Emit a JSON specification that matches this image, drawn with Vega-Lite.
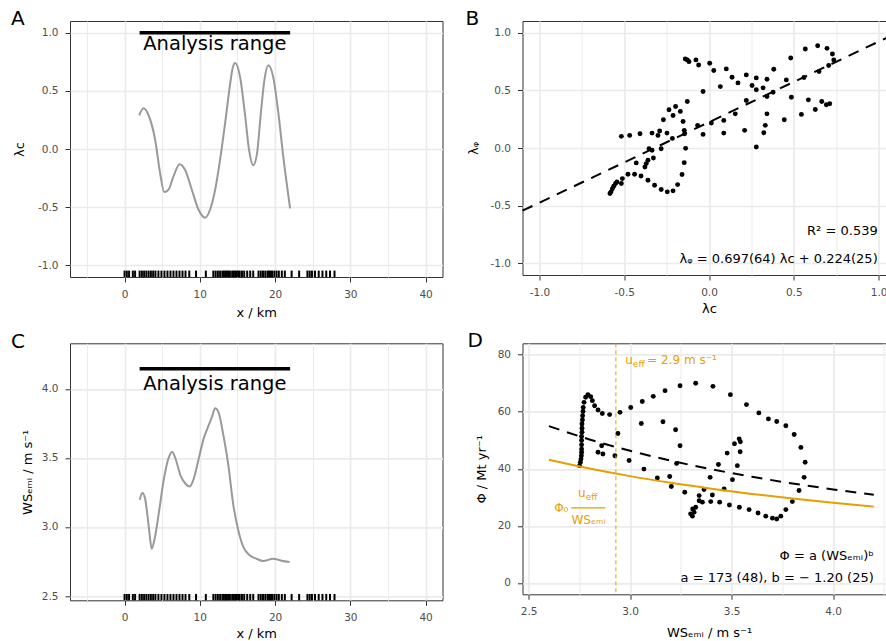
{
 "$schema": "https://vega.github.io/schema/vega-lite/v6.json",
 "padding": {"left": 10, "top": 8, "right": 0, "bottom": 0},
 "columns": 2,
 "bounds": "flush",
 "spacing": {"row": 66.3, "column": 79.5},
 "config": {
  "font": "DejaVu Sans",
  "view": {"stroke": "#333333", "strokeWidth": 1},
  "axis": {"domain": false, "grid": true, "gridColor": "#EBEBEB", "tickColor": "#333333", "tickSize": 5, "labelColor": "#4D4D4D", "labelFontSize": 10.5, "labelPadding": 7, "labelOverlap": false, "labelFlush": false, "titleFontSize": 13, "titleFontWeight": "normal", "titleColor": "#000000", "labelFont": "DejaVu Sans", "titleFont": "DejaVu Sans"},
  "title": {"fontSize": 20, "fontWeight": "normal", "anchor": "start", "frame": "group", "offset": 0, "baseline": "alphabetic", "color": "#000000", "font": "DejaVu Sans"},
  "text": {"font": "DejaVu Sans"}
 },
 "datasets": {
  "range": [{"x1": 2, "x2": 22, "xmid": 12, "label": "Analysis range"}],
  "rug": [{"x":0},{"x":0.3},{"x":0.6},{"x":1.1},{"x":1.4},{"x":2.0},{"x":2.3},{"x":2.6},{"x":2.9},{"x":3.2},{"x":3.5},{"x":3.8},{"x":4.1},{"x":4.5},{"x":4.9},{"x":5.3},{"x":5.7},{"x":6.1},{"x":6.5},{"x":6.9},{"x":7.3},{"x":7.7},{"x":8.1},{"x":8.6},{"x":9.5},{"x":10.8},{"x":11.8},{"x":12.1},{"x":12.4},{"x":12.7},{"x":13.0},{"x":13.2},{"x":13.4},{"x":13.6},{"x":13.8},{"x":14.0},{"x":14.3},{"x":14.5},{"x":14.7},{"x":14.9},{"x":15.1},{"x":15.3},{"x":15.6},{"x":15.9},{"x":16.3},{"x":16.7},{"x":17.1},{"x":17.8},{"x":18.1},{"x":18.4},{"x":18.7},{"x":19.0},{"x":19.2},{"x":19.4},{"x":19.6},{"x":19.9},{"x":20.2},{"x":20.5},{"x":20.9},{"x":21.3},{"x":22.2},{"x":23.2},{"x":24.3},{"x":24.6},{"x":24.9},{"x":25.3},{"x":25.8},{"x":26.3},{"x":26.8},{"x":27.3},{"x":27.9}],
  "curveA": [{"x":1.95,"lam":0.29},{"x":2.52,"lam":0.35},{"x":3.19,"lam":0.29},{"x":4.07,"lam":0.077},{"x":4.73,"lam":-0.21},{"x":5.27,"lam":-0.37},{"x":5.84,"lam":-0.35},{"x":6.5,"lam":-0.236},{"x":7.3,"lam":-0.13},{"x":8.05,"lam":-0.18},{"x":8.94,"lam":-0.35},{"x":9.82,"lam":-0.52},{"x":10.7,"lam":-0.59},{"x":11.37,"lam":-0.52},{"x":12.04,"lam":-0.35},{"x":12.7,"lam":-0.09},{"x":13.36,"lam":0.22},{"x":14.03,"lam":0.56},{"x":14.38,"lam":0.7},{"x":14.7,"lam":0.74},{"x":15.35,"lam":0.62},{"x":16.0,"lam":0.3},{"x":16.55,"lam":-0.01},{"x":17.1,"lam":-0.14},{"x":17.6,"lam":-0.04},{"x":18.1,"lam":0.3},{"x":18.6,"lam":0.6},{"x":19.1,"lam":0.72},{"x":19.75,"lam":0.62},{"x":20.4,"lam":0.33},{"x":21.1,"lam":-0.07},{"x":22.0,"lam":-0.51}],
  "curveC": [{"x":2.02,"ws":3.197},{"x":2.37,"ws":3.248},{"x":2.73,"ws":3.204},{"x":3.25,"ws":2.987},{"x":3.6,"ws":2.842},{"x":4.0,"ws":2.915},{"x":4.57,"ws":3.108},{"x":5.23,"ws":3.349},{"x":5.89,"ws":3.506},{"x":6.33,"ws":3.542},{"x":6.77,"ws":3.494},{"x":7.43,"ws":3.373},{"x":8.09,"ws":3.313},{"x":8.66,"ws":3.293},{"x":9.19,"ws":3.349},{"x":9.85,"ws":3.494},{"x":10.5,"ws":3.638},{"x":11.16,"ws":3.735},{"x":11.6,"ws":3.795},{"x":12.04,"ws":3.86},{"x":12.48,"ws":3.831},{"x":13.14,"ws":3.662},{"x":13.8,"ws":3.445},{"x":14.46,"ws":3.156},{"x":15.12,"ws":2.975},{"x":15.78,"ws":2.855},{"x":16.66,"ws":2.794},{"x":17.54,"ws":2.77},{"x":18.42,"ws":2.753},{"x":19.74,"ws":2.77},{"x":20.84,"ws":2.756},{"x":21.93,"ws":2.746}],
  "scatterB": [{"lc":-0.584,"lp":-0.394},{"lc":-0.578,"lp":-0.38},{"lc":-0.57,"lp":-0.354},{"lc":-0.562,"lp":-0.331},{"lc":-0.551,"lp":-0.308},{"lc":-0.543,"lp":-0.294},{"lc":-0.517,"lp":-0.308},{"lc":-0.511,"lp":-0.265},{"lc":-0.478,"lp":-0.227},{"lc":-0.439,"lp":-0.227},{"lc":-0.401,"lp":-0.242},{"lc":-0.36,"lp":-0.279},{"lc":-0.321,"lp":-0.322},{"lc":-0.282,"lp":-0.36},{"lc":-0.246,"lp":-0.38},{"lc":-0.212,"lp":-0.371},{"lc":-0.185,"lp":-0.317},{"lc":-0.159,"lp":-0.23},{"lc":-0.146,"lp":-0.127},{"lc":-0.138,"lp":-0.003},{"lc":-0.144,"lp":0.124},{"lc":-0.146,"lp":0.153},{"lc":-0.153,"lp":0.23},{"lc":-0.169,"lp":0.317},{"lc":-0.197,"lp":0.36},{"lc":-0.236,"lp":0.331},{"lc":-0.212,"lp":0.282},{"lc":-0.269,"lp":0.245},{"lc":-0.216,"lp":0.083},{"lc":-0.248,"lp":0.129},{"lc":-0.291,"lp":0.147},{"lc":-0.301,"lp":0.109},{"lc":-0.336,"lp":0.129},{"lc":-0.354,"lp":-0.006},{"lc":-0.336,"lp":-0.02},{"lc":-0.328,"lp":-0.086},{"lc":-0.36,"lp":-0.106},{"lc":-0.37,"lp":-0.135},{"lc":-0.378,"lp":-0.164},{"lc":-0.429,"lp":-0.129},{"lc":-0.407,"lp":0.124},{"lc":-0.468,"lp":0.109},{"lc":-0.517,"lp":0.101},{"lc":-0.282,"lp":-0.006},{"lc":-0.14,"lp":0.771},{"lc":-0.128,"lp":0.763},{"lc":-0.118,"lp":0.748},{"lc":-0.077,"lp":0.763},{"lc":-0.061,"lp":0.719},{"lc":0.004,"lp":0.734},{"lc":0.028,"lp":0.671},{"lc":-0.035,"lp":0.489},{"lc":0.102,"lp":0.685},{"lc":0.136,"lp":0.613},{"lc":0.171,"lp":0.564},{"lc":0.067,"lp":0.532},{"lc":0.22,"lp":0.633},{"lc":0.254,"lp":0.541},{"lc":0.279,"lp":0.607},{"lc":0.279,"lp":0.504},{"lc":0.319,"lp":0.521},{"lc":0.342,"lp":0.596},{"lc":0.382,"lp":0.682},{"lc":0.456,"lp":0.59},{"lc":0.482,"lp":0.78},{"lc":0.568,"lp":0.858},{"lc":0.641,"lp":0.886},{"lc":0.696,"lp":0.863},{"lc":0.728,"lp":0.814},{"lc":0.736,"lp":0.763},{"lc":0.706,"lp":0.714},{"lc":0.649,"lp":0.662},{"lc":0.56,"lp":0.61},{"lc":0.378,"lp":0.483},{"lc":0.342,"lp":0.446},{"lc":0.22,"lp":0.412},{"lc":0.155,"lp":0.296},{"lc":0.087,"lp":0.239},{"lc":0.087,"lp":0.129},{"lc":0.014,"lp":0.216},{"lc":-0.035,"lp":0.118},{"lc":-0.067,"lp":0.196},{"lc":-0.128,"lp":0.403},{"lc":0.342,"lp":0.296},{"lc":0.332,"lp":0.196},{"lc":0.323,"lp":0.132},{"lc":0.279,"lp":0.009},{"lc":0.21,"lp":0.153},{"lc":0.444,"lp":0.245},{"lc":0.486,"lp":0.44},{"lc":0.545,"lp":0.291},{"lc":0.586,"lp":0.417},{"lc":0.627,"lp":0.334},{"lc":0.665,"lp":0.403},{"lc":0.692,"lp":0.374},{"lc":0.712,"lp":0.383}],
  "fitB": [{"lc":-1.1,"lp":-0.543},{"lc":1.1,"lp":0.991}],
  "scatterD": [{"ws":2.751,"phi":41.1},{"ws":2.755,"phi":42.3},{"ws":2.758,"phi":43.4},{"ws":2.76,"phi":44.6},{"ws":2.761,"phi":45.8},{"ws":2.761,"phi":46.9},{"ws":2.761,"phi":48.4},{"ws":2.761,"phi":49.9},{"ws":2.761,"phi":51.3},{"ws":2.763,"phi":52.8},{"ws":2.763,"phi":54.2},{"ws":2.763,"phi":55.7},{"ws":2.765,"phi":57.1},{"ws":2.766,"phi":58.6},{"ws":2.768,"phi":60.1},{"ws":2.769,"phi":61.5},{"ws":2.773,"phi":63.3},{"ws":2.781,"phi":65.1},{"ws":2.792,"phi":66.0},{"ws":2.806,"phi":65.3},{"ws":2.814,"phi":63.9},{"ws":2.825,"phi":62.1},{"ws":2.842,"phi":60.6},{"ws":2.863,"phi":59.4},{"ws":2.899,"phi":59.0},{"ws":2.95,"phi":59.8},{"ws":3.003,"phi":61.5},{"ws":3.06,"phi":63.6},{"ws":3.114,"phi":65.4},{"ws":3.172,"phi":67.4},{"ws":3.246,"phi":69.1},{"ws":3.323,"phi":70.0},{"ws":3.408,"phi":68.9},{"ws":3.494,"phi":66.0},{"ws":3.573,"phi":62.5},{"ws":3.634,"phi":59.6},{"ws":3.681,"phi":57.5},{"ws":3.722,"phi":56.6},{"ws":3.767,"phi":55.1},{"ws":3.808,"phi":52.0},{"ws":3.841,"phi":47.5},{"ws":3.862,"phi":42.3},{"ws":3.857,"phi":37.0},{"ws":3.832,"phi":32.4},{"ws":3.799,"phi":28.5},{"ws":3.767,"phi":25.7},{"ws":3.742,"phi":23.4},{"ws":3.722,"phi":22.4},{"ws":3.701,"phi":22.7},{"ws":3.668,"phi":23.4},{"ws":3.63,"phi":24.5},{"ws":3.586,"phi":25.7},{"ws":3.538,"phi":26.5},{"ws":3.489,"phi":27.3},{"ws":3.441,"phi":28.3},{"ws":3.397,"phi":28.5},{"ws":3.356,"phi":28.3},{"ws":3.34,"phi":28.8},{"ws":3.323,"phi":26.5},{"ws":3.315,"phi":24.8},{"ws":3.307,"phi":23.4},{"ws":3.298,"phi":24.2},{"ws":3.308,"phi":25.9},{"ws":3.34,"phi":30.6},{"ws":3.364,"phi":32.7},{"ws":3.405,"phi":30.8},{"ws":3.463,"phi":32.9},{"ws":3.394,"phi":37.0},{"ws":3.435,"phi":41.5},{"ws":3.504,"phi":36.2},{"ws":3.528,"phi":41.1},{"ws":3.542,"phi":46.0},{"ws":3.543,"phi":49.5},{"ws":3.537,"phi":50.5},{"ws":3.514,"phi":48.8},{"ws":3.478,"phi":45.5},{"ws":3.269,"phi":31.8},{"ws":3.203,"phi":33.8},{"ws":3.195,"phi":37.3},{"ws":3.134,"phi":36.8},{"ws":3.068,"phi":39.9},{"ws":2.995,"phi":42.9},{"ws":2.925,"phi":44.6},{"ws":2.866,"phi":45.2},{"ws":2.842,"phi":45.8},{"ws":2.86,"phi":48.1},{"ws":2.94,"phi":52.4},{"ws":3.055,"phi":55.9},{"ws":3.162,"phi":56.5},{"ws":3.224,"phi":53.7},{"ws":3.246,"phi":48.1},{"ws":3.229,"phi":41.9}],
  "powerD": [{"ws":2.6,"phi":54.96},{"ws":2.8,"phi":50.29},{"ws":3.0,"phi":46.3},{"ws":3.2,"phi":42.85},{"ws":3.4,"phi":39.84},{"ws":3.6,"phi":37.2},{"ws":3.8,"phi":34.86},{"ws":4.0,"phi":32.78},{"ws":4.2,"phi":30.92}],
  "ueffD": [{"ws":2.6,"phi":43.19},{"ws":2.8,"phi":40.11},{"ws":3.0,"phi":37.43},{"ws":3.2,"phi":35.09},{"ws":3.4,"phi":33.03},{"ws":3.6,"phi":31.19},{"ws":3.8,"phi":29.55},{"ws":4.0,"phi":28.08},{"ws":4.2,"phi":26.74}]
 },
 "concat": [
  {
   "title": {"text": "A", "dx": -59, "dy": 11.5},
   "width": 372.5, "height": 256,
   "layer": [
    {"data": {"name": "curveA"}, "mark": {"type": "line", "color": "#999999", "strokeWidth": 2, "interpolate": "monotone"},
     "encoding": {
      "x": {"field": "x", "type": "quantitative", "scale": {"domain": [-7.25, 42.25], "nice": false, "zero": false},
       "axis": {"title": "x / km", "values": [-5,0,5,10,15,20,25,30,35,40], "labelExpr": "datum.value % 10 == 0 ? datum.label : ''", "gridWidth": {"condition": {"test": "datum.value % 10 != 0", "value": 1}, "value": 1.7}, "tickOpacity": {"condition": {"test": "datum.value % 10 != 0", "value": 0}, "value": 1}, "titleY": 39, "titleBaseline": "alphabetic"}},
      "y": {"field": "lam", "type": "quantitative", "scale": {"domain": [-1.1, 1.1], "nice": false, "zero": false},
       "axis": {"title": "λc", "values": [-1,-0.75,-0.5,-0.25,0,0.25,0.5,0.75,1], "labelExpr": "abs(datum.value*2-round(datum.value*2)) > 0.001 ? '' : replace(format(datum.value, '.1f'), '−', '-')", "gridWidth": {"condition": {"test": "abs(datum.value*2-round(datum.value*2)) > 0.001", "value": 1}, "value": 1.7}, "tickOpacity": {"condition": {"test": "abs(datum.value*2-round(datum.value*2)) > 0.001", "value": 0}, "value": 1}, "titleX": -47, "titleBaseline": "alphabetic"}}
     }},
    {"data": {"name": "range"}, "mark": {"type": "rule", "color": "#000000", "strokeWidth": 3.5},
     "encoding": {"x": {"field": "x1", "type": "quantitative"}, "x2": {"field": "x2"}, "y": {"datum": 1.0}}},
    {"data": {"name": "range"}, "mark": {"type": "text", "fontSize": 19.5, "baseline": "alphabetic", "align": "center", "color": "#000000"},
     "encoding": {"x": {"field": "xmid", "type": "quantitative"}, "y": {"datum": 0.855}, "text": {"field": "label"}}},
    {"data": {"name": "rug"}, "mark": {"type": "rule", "color": "#000000", "strokeWidth": 2},
     "encoding": {"x": {"field": "x", "type": "quantitative"}, "y": {"datum": -1.1}, "y2": {"datum": -1.045}}}
   ]
  },
  {
   "title": {"text": "B", "dx": -57, "dy": 12.3},
   "width": 373, "height": 254,
   "layer": [
    {"data": {"name": "scatterB"}, "mark": {"type": "circle", "color": "#000000", "size": 24, "opacity": 1},
     "encoding": {
      "x": {"field": "lc", "type": "quantitative", "scale": {"domain": [-1.1, 1.1], "nice": false, "zero": false},
       "axis": {"title": "λc", "values": [-1,-0.75,-0.5,-0.25,0,0.25,0.5,0.75,1], "labelExpr": "abs(datum.value*2-round(datum.value*2)) > 0.001 ? '' : replace(format(datum.value, '.1f'), '−', '-')", "gridWidth": {"condition": {"test": "abs(datum.value*2-round(datum.value*2)) > 0.001", "value": 1}, "value": 1.7}, "tickOpacity": {"condition": {"test": "abs(datum.value*2-round(datum.value*2)) > 0.001", "value": 0}, "value": 1}, "titleY": 37.7, "titleBaseline": "alphabetic"}},
      "y": {"field": "lp", "type": "quantitative", "scale": {"domain": [-1.1, 1.1], "nice": false, "zero": false},
       "axis": {"title": "λᵩ", "values": [-1,-0.75,-0.5,-0.25,0,0.25,0.5,0.75,1], "labelExpr": "abs(datum.value*2-round(datum.value*2)) > 0.001 ? '' : replace(format(datum.value, '.1f'), '−', '-')", "gridWidth": {"condition": {"test": "abs(datum.value*2-round(datum.value*2)) > 0.001", "value": 1}, "value": 1.7}, "tickOpacity": {"condition": {"test": "abs(datum.value*2-round(datum.value*2)) > 0.001", "value": 0}, "value": 1}, "titleX": -45, "titleBaseline": "alphabetic"}}
     }},
    {"data": {"name": "fitB"}, "mark": {"type": "line", "color": "#000000", "strokeWidth": 2, "strokeDash": [11, 8]},
     "encoding": {"x": {"field": "lc", "type": "quantitative"}, "y": {"field": "lp", "type": "quantitative"}}},
    {"data": {"values": [{}]}, "mark": {"type": "text", "text": "R² = 0.539", "fontSize": 13, "align": "right", "baseline": "alphabetic", "color": "#000000"},
     "encoding": {"x": {"datum": 0.995}, "y": {"datum": -0.754}}},
    {"data": {"values": [{}]}, "mark": {"type": "text", "text": "λᵩ = 0.697(64) λc + 0.224(25)", "fontSize": 13, "align": "right", "baseline": "alphabetic", "color": "#000000"},
     "encoding": {"x": {"datum": 0.995}, "y": {"datum": -0.998}}}
   ]
  },
  {
   "title": {"text": "C", "dx": -59, "dy": 12.3},
   "width": 372.5, "height": 257,
   "layer": [
    {"data": {"name": "curveC"}, "mark": {"type": "line", "color": "#999999", "strokeWidth": 2, "interpolate": "monotone"},
     "encoding": {
      "x": {"field": "x", "type": "quantitative", "scale": {"domain": [-7.25, 42.25], "nice": false, "zero": false},
       "axis": {"title": "x / km", "values": [-5,0,5,10,15,20,25,30,35,40], "labelExpr": "datum.value % 10 == 0 ? datum.label : ''", "gridWidth": {"condition": {"test": "datum.value % 10 != 0", "value": 1}, "value": 1.7}, "tickOpacity": {"condition": {"test": "datum.value % 10 != 0", "value": 0}, "value": 1}, "titleY": 37.6, "titleBaseline": "alphabetic"}},
      "y": {"field": "ws", "type": "quantitative", "scale": {"domain": [2.469, 4.33], "nice": false, "zero": false},
       "axis": {"title": "WSₑₘᵢ / m s⁻¹", "values": [2.5,2.75,3,3.25,3.5,3.75,4,4.25], "labelExpr": "abs(datum.value*2-round(datum.value*2)) > 0.001 ? '' : format(datum.value, '.1f')", "gridWidth": {"condition": {"test": "abs(datum.value*2-round(datum.value*2)) > 0.001", "value": 1}, "value": 1.7}, "tickOpacity": {"condition": {"test": "abs(datum.value*2-round(datum.value*2)) > 0.001", "value": 0}, "value": 1}, "titleX": -39, "titleBaseline": "alphabetic"}}
     }},
    {"data": {"name": "range"}, "mark": {"type": "rule", "color": "#000000", "strokeWidth": 3.5},
     "encoding": {"x": {"field": "x1", "type": "quantitative"}, "x2": {"field": "x2"}, "y": {"datum": 4.145}}},
    {"data": {"name": "range"}, "mark": {"type": "text", "fontSize": 19.5, "baseline": "alphabetic", "align": "center", "color": "#000000"},
     "encoding": {"x": {"field": "xmid", "type": "quantitative"}, "y": {"datum": 3.993}, "text": {"field": "label"}}},
    {"data": {"name": "rug"}, "mark": {"type": "rule", "color": "#000000", "strokeWidth": 2},
     "encoding": {"x": {"field": "x", "type": "quantitative"}, "y": {"datum": 2.469}, "y2": {"datum": 2.515}}}
   ]
  },
  {
   "title": {"text": "D", "dx": -55, "dy": 12.3},
   "width": 373, "height": 251,
   "layer": [
    {"data": {"name": "scatterD"}, "mark": {"type": "circle", "color": "#000000", "size": 24, "opacity": 1},
     "encoding": {
      "x": {"field": "ws", "type": "quantitative", "scale": {"domain": [2.47, 4.307], "nice": false, "zero": false},
       "axis": {"title": "WSₑₘᵢ / m s⁻¹", "values": [2.5,2.75,3,3.25,3.5,3.75,4,4.25], "labelExpr": "abs(datum.value*2-round(datum.value*2)) > 0.001 ? '' : format(datum.value, '.1f')", "gridWidth": {"condition": {"test": "abs(datum.value*2-round(datum.value*2)) > 0.001", "value": 1}, "value": 1.7}, "tickOpacity": {"condition": {"test": "abs(datum.value*2-round(datum.value*2)) > 0.001", "value": 0}, "value": 1}, "titleY": 41.7, "titleBaseline": "alphabetic"}},
      "y": {"field": "phi", "type": "quantitative", "scale": {"domain": [-4, 84], "nice": false, "zero": false},
       "axis": {"title": "Φ  / Mt yr⁻¹", "values": [0,10,20,30,40,50,60,70,80], "labelExpr": "datum.value % 20 != 0 ? '' : datum.label", "gridWidth": {"condition": {"test": "datum.value % 20 != 0", "value": 1}, "value": 1.7}, "tickOpacity": {"condition": {"test": "datum.value % 20 != 0", "value": 0}, "value": 1}, "titleX": -37.3, "titleBaseline": "alphabetic"}}
     }},
    {"data": {"name": "powerD"}, "mark": {"type": "line", "color": "#000000", "strokeWidth": 2, "strokeDash": [11, 8], "interpolate": "monotone"},
     "encoding": {"x": {"field": "ws", "type": "quantitative"}, "y": {"field": "phi", "type": "quantitative"}}},
    {"data": {"name": "ueffD"}, "mark": {"type": "line", "color": "#E69F00", "strokeWidth": 2, "interpolate": "monotone"},
     "encoding": {"x": {"field": "ws", "type": "quantitative"}, "y": {"field": "phi", "type": "quantitative"}}},
    {"data": {"values": [{}]}, "mark": {"type": "rule", "color": "#E69F00", "strokeWidth": 1, "strokeDash": [4, 3]},
     "encoding": {"x": {"datum": 2.93}}},
    {"data": {"values": [{}]}, "mark": {"type": "text", "text": "u", "fontSize": 12, "align": "left", "baseline": "alphabetic", "color": "#E69F00"},
     "encoding": {"x": {"datum": 2.976}, "y": {"datum": 76.7}}},
    {"data": {"values": [{}]}, "mark": {"type": "text", "text": "eff", "fontSize": 9, "align": "left", "baseline": "alphabetic", "color": "#E69F00", "dx": 7.6, "dy": 3},
     "encoding": {"x": {"datum": 2.976}, "y": {"datum": 76.7}}},
    {"data": {"values": [{}]}, "mark": {"type": "text", "text": "= 2.9 m s⁻¹", "fontSize": 12, "align": "left", "baseline": "alphabetic", "color": "#E69F00", "dx": 22},
     "encoding": {"x": {"datum": 2.976}, "y": {"datum": 76.7}}},
    {"data": {"values": [{}]}, "mark": {"type": "text", "text": "u", "fontSize": 12, "align": "right", "baseline": "alphabetic", "color": "#E69F00"},
     "encoding": {"x": {"datum": 2.781}, "y": {"datum": 30.0}}},
    {"data": {"values": [{}]}, "mark": {"type": "text", "text": "eff", "fontSize": 9, "align": "left", "baseline": "alphabetic", "color": "#E69F00", "dy": 3},
     "encoding": {"x": {"datum": 2.781}, "y": {"datum": 30.0}}},
    {"data": {"values": [{}]}, "mark": {"type": "rule", "color": "#E69F00", "strokeWidth": 1.3},
     "encoding": {"x": {"datum": 2.71}, "x2": {"datum": 2.878}, "y": {"datum": 26.3}}},
    {"data": {"values": [{}]}, "mark": {"type": "text", "text": "Φ₀", "fontSize": 12, "align": "center", "baseline": "middle", "color": "#E69F00"},
     "encoding": {"x": {"datum": 2.661}, "y": {"datum": 26.3}}},
    {"data": {"values": [{}]}, "mark": {"type": "text", "text": "WSₑₘᵢ", "fontSize": 12, "align": "center", "baseline": "alphabetic", "color": "#E69F00"},
     "encoding": {"x": {"datum": 2.795}, "y": {"datum": 20.7}}},
    {"data": {"values": [{}]}, "mark": {"type": "text", "text": "Φ = a (WSₑₘᵢ)ᵇ", "fontSize": 13, "align": "right", "baseline": "alphabetic", "color": "#000000"},
     "encoding": {"x": {"datum": 4.2}, "y": {"datum": 8.2}}},
    {"data": {"values": [{}]}, "mark": {"type": "text", "text": "a = 173 (48), b = − 1.20 (25)", "fontSize": 13, "align": "right", "baseline": "alphabetic", "color": "#000000"},
     "encoding": {"x": {"datum": 4.2}, "y": {"datum": 0.25}}}
   ]
  }
 ]
}
